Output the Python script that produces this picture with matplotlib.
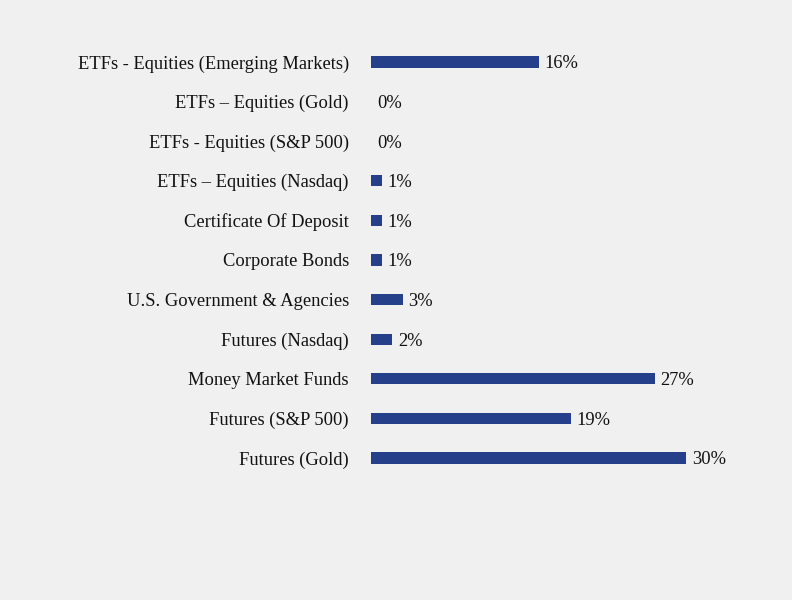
import matplotlib.pyplot as plt

categories = ['ETFs - Equities (Emerging Markets)', 'ETFs \u2013 Equities (Gold)',
              'ETFs - Equities (S&P 500)', 'ETFs \u2013 Equities (Nasdaq)',
              'Certificate Of Deposit', 'Corporate Bonds',
              'U.S. Government & Agencies', 'Futures (Nasdaq)',
              'Money Market Funds', 'Futures (S&P 500)', 'Futures (Gold)']
values = [16, 0, 0, 1, 1, 1, 3, 2, 27, 19, 30]

bg = '#f0f0f0'
bar_color = '#253f8a'

plt.rcParams['font.family'] = ['Liberation Serif', 'DejaVu Serif']

fig = plt.figure(figsize=(7.92, 6), dpi=100, facecolor=bg)
ax = fig.add_axes([371 / 792, 1 - 477.8 / 600, 315 / 792, 435.6 / 600])
ax.set_facecolor(bg)

ypos = list(range(len(categories)))[::-1]
ax.barh(ypos, values, height=0.28, color=bar_color)

for y, v in zip(ypos, values):
    ax.annotate(f'{v}%', xy=(v, y), xytext=(4.2, 0), textcoords='offset points',
                va='center_baseline', ha='left', fontsize=13.3, color='#111111')

ax.set_yticks(ypos)
ax.set_yticklabels(categories, fontsize=13.3, color='#111111')
ax.tick_params(axis='y', length=0, pad=16)
ax.set_xticks([])
ax.set_xlim(0, 30)
ax.set_ylim(-0.5, 10.5)
for s in ax.spines.values():
    s.set_visible(False)

fig.savefig('out.png', dpi=100, facecolor=bg)
